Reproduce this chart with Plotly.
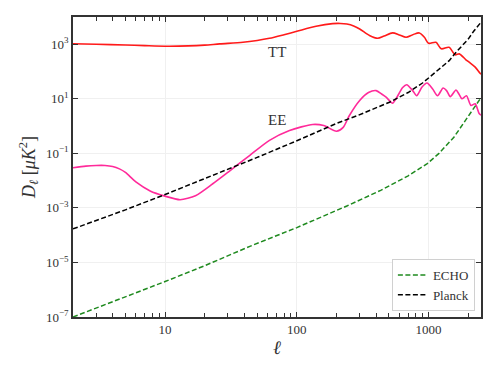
import plotly.graph_objects as go

# values (D_ell in uK^2)
tt_ell = [2, 3, 5, 7, 10, 15, 20, 26, 39, 50, 62, 80, 100, 140, 187, 214, 240, 270, 300,
          356, 411, 460, 533, 600, 675, 760, 851, 930, 1000, 1137, 1250, 1430, 1592, 1710,
          1920, 2030, 2258, 2450, 2500]
tt_d = [1040, 1000, 940, 890, 850, 870, 930, 1030, 1180, 1380, 1660, 2250, 2990, 4570,
        5700, 5800, 5500, 4700, 3650, 2100, 1660, 2000, 2610, 2200, 1800, 2250, 2610, 1800,
        1090, 1180, 680, 775, 410, 445, 270, 220, 145, 89, 80]

ee_ell = [2, 2.5, 3, 3.5, 4, 4.5, 5, 6, 7.7, 10, 13, 17, 23, 31, 44, 62, 88, 132, 160,
          200, 225, 250, 300, 350, 400, 440, 476, 533, 566, 636, 682, 758, 812, 892, 973,
          1074, 1170, 1290, 1370, 1462, 1614, 1700, 1791, 1940, 2096, 2258, 2420, 2500]
ee_d = [0.0295, 0.034, 0.036, 0.036, 0.033, 0.027, 0.020, 0.009, 0.0042, 0.0027, 0.0020,
        0.0028, 0.0077, 0.023, 0.085, 0.30, 0.69, 1.15, 1.05, 0.65, 0.9, 2.4, 8.7, 17, 20,
        15, 11.5, 6.9, 10, 26, 33, 20, 13, 27, 38, 23, 13, 25, 20, 12, 21, 15, 10, 13, 5.7,
        6.6, 2.9, 2.5]

echo_ell = [2, 3, 5, 10, 20, 44, 100, 242, 433, 516, 700, 977, 1200, 1557, 1800, 2000,
            2200, 2500]
echo_d = [1.0e-7, 2.1e-7, 5.3e-7, 2.0e-6, 7.6e-6, 3.9e-5, 1.9e-4, 1.2e-3, 4.4e-3, 6.9e-3,
          1.5e-2, 0.042, 0.10, 0.39, 1.05, 2.2, 4.3, 11]

planck_ell = [2, 3, 5, 10, 20, 50, 100, 200, 290, 400, 505, 700, 900, 1000, 1200, 1435,
              1600, 1800, 2000, 2200, 2420, 2500]
planck_d = [1.7e-4, 3.4e-4, 8.5e-4, 3.1e-3, 0.0119, 0.071, 0.29, 1.25, 2.45, 4.6, 7.5, 17,
            38, 58, 120, 252, 480, 900, 1550, 3000, 5590, 6400]

y_ticks = [1e-7, 1e-5, 1e-3, 1e-1, 1e1, 1e3]
y_labels = ["10<sup>−7</sup>", "10<sup>−5</sup>", "10<sup>−3</sup>", "10<sup>−1</sup>",
            "10<sup>1</sup>", "10<sup>3</sup>"]
x_ticks = [10, 100, 1000]
x_labels = ["10", "100", "1000"]

FONT = "Liberation Serif"
DASH = "5px,2.5px"

fig = go.Figure()
fig.add_trace(go.Scatter(x=tt_ell, y=tt_d, mode="lines", showlegend=False,
                         line=dict(color="#ff1a1a", width=1.6, shape="spline", smoothing=0.8)))
fig.add_trace(go.Scatter(x=ee_ell, y=ee_d, mode="lines", showlegend=False,
                         line=dict(color="#ff2a9a", width=1.6, shape="spline", smoothing=0.7)))
fig.add_trace(go.Scatter(x=echo_ell, y=echo_d, mode="lines", name="ECHO",
                         line=dict(color="#1f8a1f", width=1.5, dash=DASH)))
fig.add_trace(go.Scatter(x=planck_ell, y=planck_d, mode="lines", name="Planck",
                         line=dict(color="black", width=1.5, dash=DASH)))

fig.add_annotation(x=1.848, y=2.71, xref="x", yref="y", text="TT", showarrow=False,
                   font=dict(family=FONT, size=15, color="#333"))
fig.add_annotation(x=1.848, y=0.24, xref="x", yref="y", text="EE", showarrow=False,
                   font=dict(family=FONT, size=15, color="#333"))

minor_x = [v * d for d in (1, 10, 100) for v in range(2, 10) if v * d < 2500]
minor_x += [2000]

fig.update_xaxes(type="log", range=[0.30103, 3.398], tickvals=x_ticks, ticktext=x_labels,
                 automargin=False,
                 ticks="inside", ticklen=5, tickcolor="#333", mirror="ticks",
                 showline=True, linecolor="#333", linewidth=1.5,
                 showgrid=True, gridcolor="#f0f0f0", gridwidth=1, zeroline=False,
                 minor=dict(tickvals=minor_x, ticks="inside", ticklen=4, tickcolor="#333",
                            showgrid=False),
                 tickfont=dict(family=FONT, size=13, color="#333"),
                 title=dict(text="<i>ℓ</i>", font=dict(family=FONT, size=19, color="#333"),
                            standoff=4))
fig.update_yaxes(type="log", range=[-7, 4], tickvals=y_ticks, ticktext=y_labels,
                 automargin=False,
                 ticks="inside", ticklen=5, tickcolor="#333", mirror="ticks",
                 showline=True, linecolor="#333", linewidth=1.5,
                 showgrid=True, gridcolor="#f0f0f0", gridwidth=1, zeroline=False,
                 tickfont=dict(family=FONT, size=13, color="#333"),
                 title=dict(text="<i>D</i><sub><i>ℓ</i></sub> [<i>μK</i><sup>2</sup>]",
                            font=dict(family=FONT, size=18, color="#333"), standoff=6))

# the page body adds an 8px offset, so margins are shifted to compensate
fig.update_layout(
    width=498, height=374,
    margin=dict(l=65, r=25, t=9, b=65),
    paper_bgcolor="white", plot_bgcolor="white",
    font=dict(family=FONT, color="#333"),
    legend=dict(x=0.985, y=0.02, xanchor="right", yanchor="bottom",
                bgcolor="white", bordercolor="#d0d0d0", borderwidth=1,
                font=dict(family=FONT, size=13, color="#333"), itemwidth=30),
)

fig.write_html("out.html")
